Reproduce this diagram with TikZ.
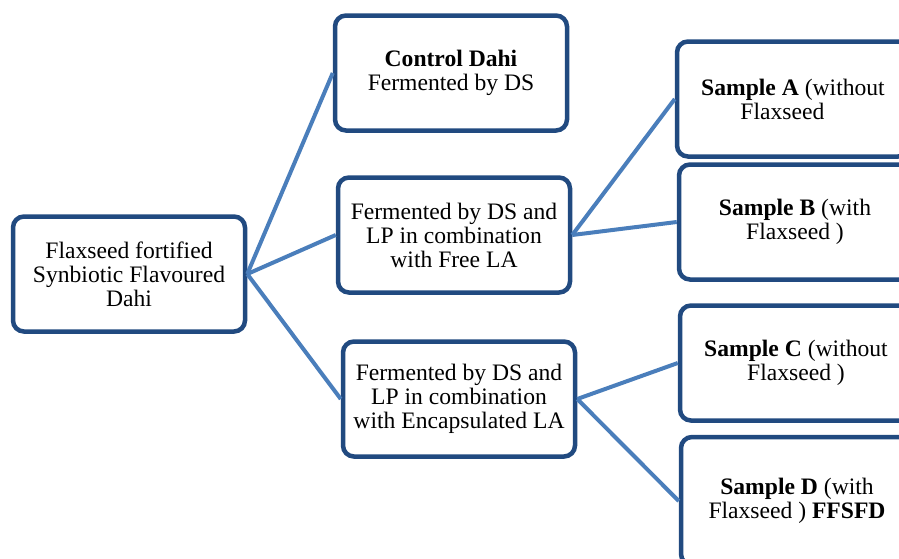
\documentclass[tikz,border=0pt]{standalone}
\usepackage{fontspec}
\setmainfont{Liberation Serif}
\definecolor{boxblue}{RGB}{33,74,128}
\definecolor{linkblue}{RGB}{74,126,187}
\begin{document}
\begin{tikzpicture}[x=1pt, y=-1pt, every node/.style={font=\fontsize{23.6}{24}\selectfont}, box/.style={draw=boxblue, line width=4.5pt, rounded corners=11pt, fill=white, minimum width=232pt, minimum height=115pt, align=center, inner sep=0pt}, link/.style={draw=linkblue, line width=4pt}]
	\useasboundingbox (0,0) rectangle (899,558);
	\clip (0,0) rectangle (899,558);
	\node[box] (root) at (129,274) {Flaxseed fortified\\ Synbiotic Flavoured\\ Dahi};
	\node[box] (ctrl) at (451,73) {\textbf{Control Dahi}\\ Fermented by DS};
	\node[box] (free) at (454,235) {Fermented by DS and\\ LP in combination\\ with Free LA};
	\node[box] (encap) at (459,399) {Fermented by DS and\\ LP in combination\\ with Encapsulated LA};
	\node[box] (sa) at (793,99) {\textbf{Sample A} (without\\ Flaxseed\hspace*{0.9em}};
	\node[box] (sb) at (795,222) {\textbf{Sample B} (with\\ Flaxseed )};
	\node[box] (sc) at (796,363) {\textbf{Sample C} (without\\ Flaxseed )};
	\node[box, minimum height=128pt] (sd) at (797,501) {\textbf{Sample D} (with\\ Flaxseed ) \textbf{FFSFD}};
	\draw[link] (root.east) -- (ctrl.west);
	\draw[link] (root.east) -- (free.west);
	\draw[link] (root.east) -- (encap.west);
	\draw[link] (free.east) -- (sa.west);
	\draw[link] (free.east) -- (sb.west);
	\draw[link] (encap.east) -- (sc.west);
	\draw[link] (encap.east) -- (sd.west);
\end{tikzpicture}
\end{document}
